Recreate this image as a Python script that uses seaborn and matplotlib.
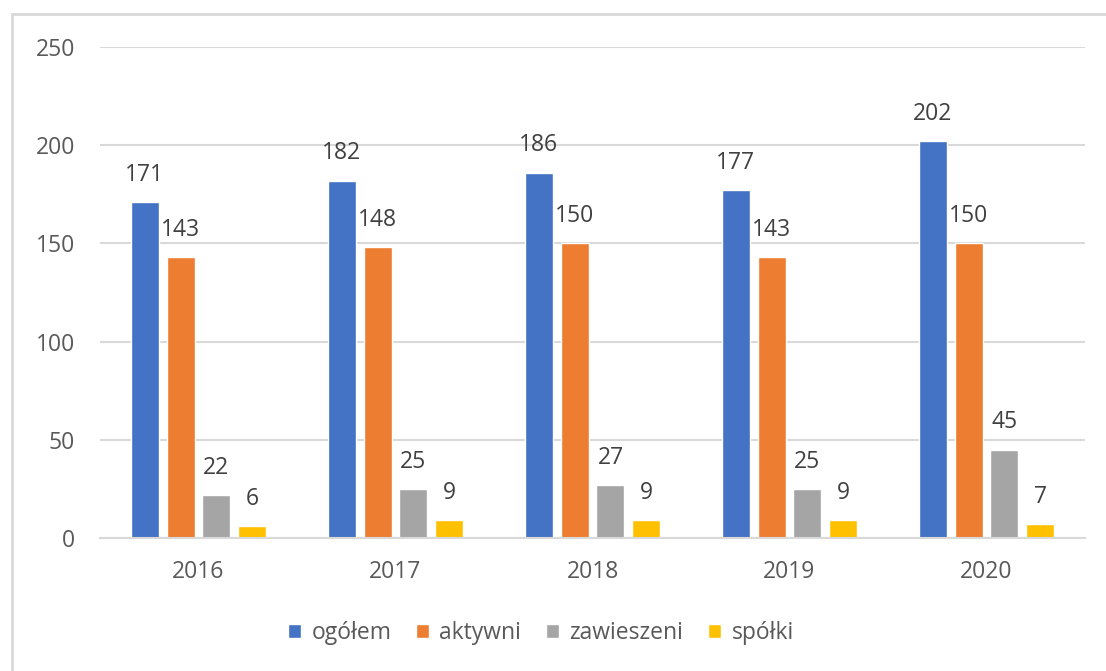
import pandas as pd
import seaborn as sns
import matplotlib.pyplot as plt
from matplotlib.patches import Rectangle

# dane
lata = ['2016', '2017', '2018', '2019', '2020']
serie = ['ogółem', 'aktywni', 'zawieszeni', 'spółki']
ogolem = [171, 182, 186, 177, 202]
aktywni = [143, 148, 150, 143, 150]
zawieszeni = [22, 25, 27, 25, 45]
spolki = [6, 9, 9, 9, 7]
kolory = ['#4472C4', '#ED7D31', '#A5A5A5', '#FFC000']

df = pd.DataFrame({
    'rok': lata * 4,
    'seria': [s for s in serie for _ in lata],
    'wartosc': ogolem + aktywni + zawieszeni + spolki,
})

sns.set_theme(style="white")
plt.rcParams['font.family'] = ['Open Sans', 'DejaVu Sans']
tekst = '#595959'
fs = 16.5

fig = plt.figure(figsize=(11.06, 6.71), dpi=100)
ax = fig.add_axes([100 / 1106, 1 - 538 / 671, 985 / 1106, 491 / 671])

sns.barplot(data=df, x='rok', y='wartosc', hue='seria', hue_order=serie,
            palette=kolory, width=0.73, gap=0.22, ax=ax, saturation=1)

for cont in ax.containers:
    ax.bar_label(cont, padding=11, fontsize=fs, color='#404040')

ax.set_ylim(0, 250)
ax.set_yticks(range(0, 251, 50))
ax.set_xlim(-0.5, 4.5)
ax.yaxis.grid(True, color='#D9D9D9', linewidth=1.5)
ax.set_axisbelow(True)
for s in ax.spines.values():
    s.set_visible(False)
ax.spines['bottom'].set_visible(True)
ax.spines['bottom'].set_color('#D9D9D9')
ax.spines['bottom'].set_linewidth(1.5)
ax.tick_params(axis='both', length=0, labelsize=fs, labelcolor=tekst)
ax.tick_params(axis='y', pad=18)
ax.tick_params(axis='x', pad=16)
ax.set_xlabel('')
ax.set_ylabel('')

ax.legend(loc='center', bbox_to_anchor=(541 / 1106, 1 - 633 / 671),
          bbox_transform=fig.transFigure, ncol=4, frameon=False,
          fontsize=fs, labelcolor=tekst, handlelength=0.55, handleheight=0.55,
          columnspacing=1.1, handletextpad=0.45)

# ramka wykresu
fig.patches.append(Rectangle((12 / 1106, -0.1), 1.2, 1 - 14 / 671 + 0.1,
                             transform=fig.transFigure, fill=False,
                             edgecolor='#D9D9D9', linewidth=2))

fig.savefig('out.png', dpi=100)
